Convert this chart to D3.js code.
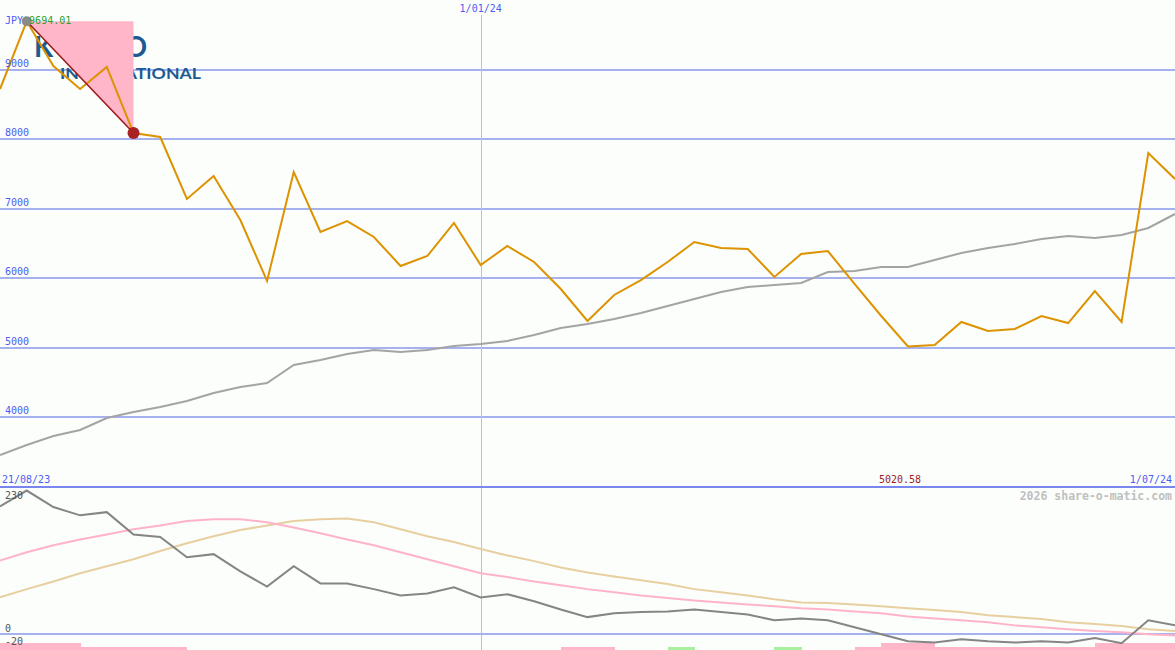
<!DOCTYPE html>
<html>
<head>
<meta charset="utf-8">
<script src="https://cdn.jsdelivr.net/npm/d3@7"></script>
<style>
html,body{margin:0;padding:0;background:#fbfefb;}
svg{display:block;}
text{font-family:"DejaVu Sans Mono",monospace;}
text.logo{font-family:Lato,"Open Sans",sans-serif;font-weight:700;}
</style>
</head>
<body>
<svg id="chart" width="1175" height="650"></svg>
<script>
// ---------- data ----------
const firstWeek = "2023-08-28";
const lastWeek = "2024-07-01";
const startLabel = "21/08/23";
const endLabel = "1/07/24";
const midLabel = "1/01/24";
const midDate = "2024-01-01";
const ticker = "JPY";
const peakLabel = "9694.01";
const minLabel = "5020.58";
const credit = "2026 share-o-matic.com";

const price = [8720, 9694.01, 9051, 8720, 9037, 8088, 8031, 7140, 7470, 6838,
  5961, 7528, 6665, 6823, 6594, 6177, 6320, 6795, 6191, 6464,
  6234, 5846, 5386, 5760, 5975, 6234, 6522, 6435, 6421, 6019,
  6349, 6392, 5918, 5458, 5020.58, 5041, 5372, 5242, 5271, 5458,
  5357, 5817, 5372, 7801, 7427];
const movingAvg = [3460, 3604, 3733, 3819, 3992, 4078, 4150, 4236, 4351, 4437,
  4495, 4754, 4826, 4912, 4969, 4940, 4969, 5027, 5055, 5099,
  5185, 5286, 5343, 5415, 5501, 5602, 5702, 5803, 5875, 5904,
  5932, 6090, 6105, 6162, 6162, 6263, 6364, 6435, 6493, 6565,
  6608, 6579, 6622, 6723, 6924];
const momentum = [201, 226, 200, 187, 192, 157, 153, 121, 126, 99,
  75, 107, 80, 80, 71, 61, 64, 74, 58, 63,
  52, 39, 27, 33, 35, 36, 39, 35, 31, 22,
  25, 22, 11, 0, -11, -13, -8, -11, -13, -11,
  -13, -6, -14, 22, 14];
const fastAvg = [116, 129, 140, 149, 157, 165, 171, 178, 181, 181,
  176, 168, 159, 149, 140, 129, 118, 107, 96, 90,
  83, 77, 71, 66, 61, 57, 53, 50, 47, 44,
  41, 39, 36, 33, 28, 25, 22, 19, 14, 11,
  8, 5, 3, 0, -2];
const slowAvg = [58, 71, 83, 96, 107, 118, 131, 143, 154, 164,
  171, 178, 181, 182, 176, 165, 154, 145, 134, 124,
  115, 105, 97, 91, 85, 79, 71, 66, 61, 55,
  50, 49, 47, 44, 41, 38, 35, 30, 27, 24,
  19, 16, 13, 8, 5];
// weekly signal between consecutive weeks (-2 strong sell, -1 sell, 0 none, 1 buy)
const signal = [-2, -2, -2, -1, -1, -1, -1, 0, 0, 0,
  0, 0, 0, 0, 0, 0, 0, 0, 0, 0,
  0, -1, -1, 0, 0, 1, 0, 0, 0, 1,
  0, 0, -1, -2, -2, -1, -1, -1, -1, -1,
  -1, -2, -2, -2];
const priceTicks = [4000, 5000, 6000, 7000, 8000, 9000];
const lowTicks = [0];
const lowLabels = ["230", "0", "-20"];
const peakIndex = 1;
const markIndex = 5;

// ---------- setup ----------
const W = 1175, H = 650;
const svg = d3.select("#chart");
const parse = d3.timeParse("%Y-%m-%d");
const d0 = parse(firstWeek);
const dates = price.map((_, i) => d3.timeDay.offset(d0, i * 7));

const x = d3.scaleTime().domain([parse(firstWeek), parse(lastWeek)]).range([0, W]);
const yMain = d3.scaleLinear().domain([3000, 10000]).range([487, 0]);
const yLow = d3.scaleLinear().domain([-20, 230]).range([647, 488]);
const ySig = d3.scaleLinear().domain([0, 2]).range([650, 643]);

const gridColor = "#a6b2f0";
const labelBlue = "#4e5cf2";

svg.append("rect").attr("width", W).attr("height", H).attr("fill", "#fbfefb");

// main gridlines
svg.append("g").selectAll("line").data(priceTicks).join("line")
  .attr("x1", 0).attr("x2", W)
  .attr("y1", d => Math.round(yMain(d))).attr("y2", d => Math.round(yMain(d)))
  .attr("stroke", gridColor).attr("stroke-width", 2).attr("shape-rendering", "crispEdges");

// vertical date line
svg.append("line")
  .attr("x1", Math.round(x(parse(midDate))) + 0.5).attr("x2", Math.round(x(parse(midDate))) + 0.5)
  .attr("y1", 15).attr("y2", H)
  .attr("stroke", "#b4bff0").attr("stroke-width", 1);

// logo watermark
const logo = svg.append("g").attr("fill", "#1d5a92");
logo.append("text").attr("class", "logo").attr("x", 34).attr("y", 57)
  .style("font-size", "28px").attr("textLength", 113).attr("lengthAdjust", "spacing").text("KPRO");
logo.append("text").attr("class", "logo").attr("x", 60).attr("y", 79)
  .style("font-size", "16px").attr("textLength", 141).attr("lengthAdjust", "spacingAndGlyphs").text("INTERNATIONAL");

// drawdown triangle
const pk = [x(dates[peakIndex]), yMain(price[peakIndex])];
const mk = [x(dates[markIndex]), yMain(price[markIndex])];
svg.append("path")
  .attr("d", `M${pk[0]},${pk[1]}L${mk[0]},${pk[1]}L${mk[0]},${mk[1]}Z`)
  .attr("fill", "#ffb6c9");

const lineGen = (yS) => d3.line().x((d, i) => x(dates[i])).y(d => yS(d));
svg.append("path").datum(movingAvg).attr("d", lineGen(yMain))
  .attr("fill", "none").attr("stroke", "#a4a4a4").attr("stroke-width", 2);
svg.append("path").datum(price).attr("d", lineGen(yMain))
  .attr("fill", "none").attr("stroke", "#dd9200").attr("stroke-width", 2);

svg.append("line").attr("x1", pk[0]).attr("y1", pk[1]).attr("x2", mk[0]).attr("y2", mk[1])
  .attr("stroke", "#9c1a1a").attr("stroke-width", 1.6);
svg.append("circle").attr("cx", pk[0]).attr("cy", pk[1]).attr("r", 5).attr("fill", "#8a8a8a");
svg.append("circle").attr("cx", mk[0]).attr("cy", mk[1]).attr("r", 6).attr("fill", "#a82222");

svg.append("g").selectAll("text").data(priceTicks).join("text")
  .attr("x", 5).attr("y", d => Math.round(yMain(d)) - 3)
  .attr("fill", labelBlue).style("font-size", "10px").text(d => d);

const tl = svg.append("text").attr("x", 5).attr("y", 24).style("font-size", "10px");
tl.append("tspan").attr("fill", labelBlue).text(ticker + " ");
tl.append("tspan").attr("fill", "#2aa02a").text(peakLabel);

svg.append("text").attr("x", x(parse(midDate))).attr("y", 12).attr("text-anchor", "middle")
  .attr("fill", labelBlue).style("font-size", "10px").text(midLabel);

svg.append("line").attr("x1", 0).attr("x2", W).attr("y1", 487).attr("y2", 487)
  .attr("stroke", "#7886ee").attr("stroke-width", 2).attr("shape-rendering", "crispEdges");

svg.append("text").attr("x", 2).attr("y", 483).attr("fill", labelBlue)
  .style("font-size", "10px").text(startLabel);
svg.append("text").attr("x", W - 3).attr("y", 483).attr("text-anchor", "end").attr("fill", labelBlue)
  .style("font-size", "10px").text(endLabel);
const minIdx = price.indexOf(d3.min(price));
svg.append("text").attr("x", x(dates[minIdx]) - 8).attr("y", 483).attr("text-anchor", "middle")
  .attr("fill", "#a02222").style("font-size", "10px").text(minLabel);

svg.append("text").attr("x", W - 3).attr("y", 500).attr("text-anchor", "end")
  .attr("fill", "#c0c0c0").style("font-size", "11.5px").style("font-weight", "bold").text(credit);

svg.append("g").selectAll("line").data(lowTicks).join("line")
  .attr("x1", 0).attr("x2", W)
  .attr("y1", d => Math.round(yLow(d))).attr("y2", d => Math.round(yLow(d)))
  .attr("stroke", gridColor).attr("stroke-width", 2).attr("shape-rendering", "crispEdges");

svg.append("g").selectAll("rect").data(signal).join("rect")
  .attr("x", (d, i) => x(dates[i]))
  .attr("width", (d, i) => x(dates[i + 1]) - x(dates[i]) + 0.5)
  .attr("y", d => ySig(Math.abs(d)))
  .attr("height", d => 650 - ySig(Math.abs(d)))
  .attr("fill", d => d > 0 ? "#a6f0a0" : "#ffb6c9")
  .attr("shape-rendering", "crispEdges");

svg.append("path").datum(slowAvg).attr("d", lineGen(yLow))
  .attr("fill", "none").attr("stroke", "#e8cfa0").attr("stroke-width", 2);
svg.append("path").datum(fastAvg).attr("d", lineGen(yLow))
  .attr("fill", "none").attr("stroke", "#ffb3c9").attr("stroke-width", 2);
svg.append("path").datum(momentum).attr("d", lineGen(yLow))
  .attr("fill", "none").attr("stroke", "#858585").attr("stroke-width", 2);

svg.append("g").selectAll("text").data(lowLabels).join("text")
  .attr("x", 5)
  .attr("y", (d, i) => i === 0 ? 499 : (i === 1 ? 632 : 645))
  .attr("fill", "#555").style("font-size", "10px").text(d => d);
</script>
</body>
</html>
